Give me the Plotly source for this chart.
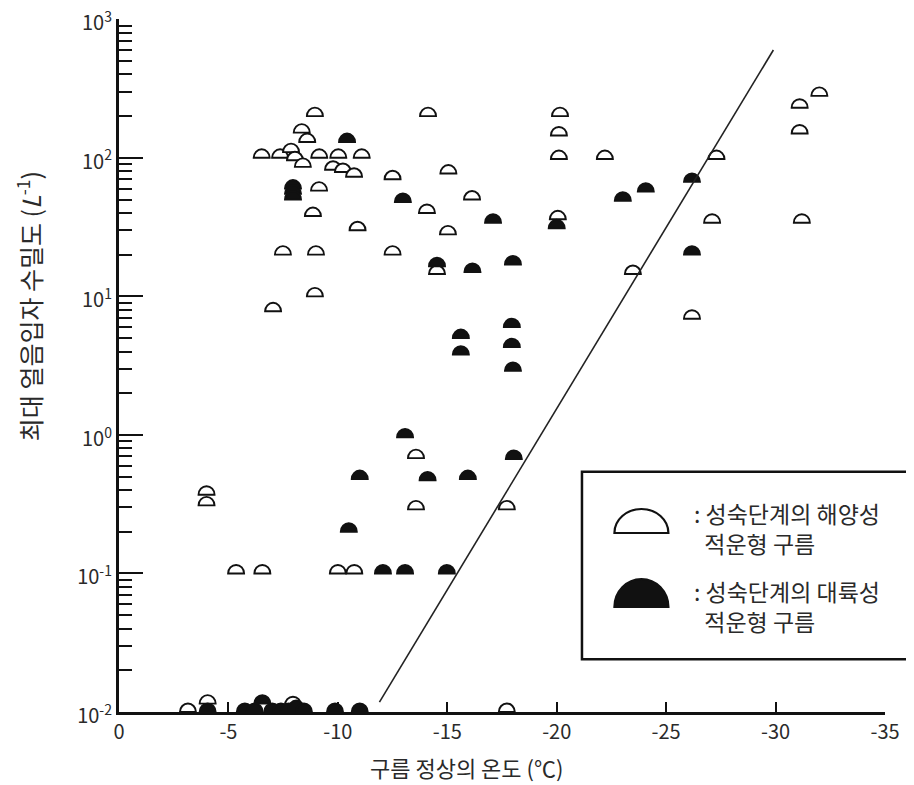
import plotly.graph_objects as go

# ---------------- data ----------------
# maritime (open dome) clouds: cloud-top temperature (deg C), max ice particle number density (L^-1)
mar_x = [-3.15, -4.05, -4.0, -4.0, -5.35, -6.55, -10.0, -10.75, -13.57, -13.57, -17.72, -17.72, -7.95,
         -7.04, -8.95, -7.49, -9.0, -12.5, -14.53, -23.48, -26.18,
         -8.86, -10.9, -14.07, -15.03, -20.05, -27.1, -31.2,
         -9.14, -12.5, -15.05, -16.13,
         -8.95, -8.35, -8.6, -14.12, -20.15, -20.1, -20.1, -22.2, -27.3, -32.0, -31.1, -31.1,
         -6.52, -7.36, -9.15, -10.02, -11.09, -7.86, -8.04, -8.4, -9.78, -10.23, -10.74]
mar_y = [0.01, 0.0115, 0.37, 0.31, 0.1, 0.1, 0.1, 0.1, 0.68, 0.29, 0.29, 0.01, 0.0112,
         7.8, 10, 20, 20, 20, 14.5, 14.5, 6.9,
         38, 30, 40, 28, 36, 34, 34,
         58, 70, 77, 50,
         200, 152, 130, 200, 200, 145, 98, 98, 98, 280, 230, 150,
         100, 100, 100, 100, 100, 110, 96, 86, 82, 79, 73]

# continental (filled dome) clouds
con_x = [-10.42, -7.95, -7.95, -7.95, -12.97, -17.09, -20.0, -23.02, -24.07, -26.18, -26.18,
         -14.53, -16.15, -18.0, -17.95, -17.95, -18.0, -15.62, -15.62,
         -13.07, -11.0, -14.1, -15.94, -18.04, -10.5, -12.06, -13.07, -14.98,
         -4.05, -5.75, -6.2, -6.55, -7.0, -7.4, -7.75, -8.1, -8.45, -9.87, -11.0]
con_y = [130, 60, 55, 50, 48, 34, 31, 49, 57, 67, 20,
         16.5, 15, 17, 6, 4.3, 2.9, 5, 3.8,
         0.96, 0.48, 0.47, 0.48, 0.67, 0.2, 0.1, 0.1, 0.1,
         0.01, 0.01, 0.01, 0.0115, 0.01, 0.01, 0.01, 0.0105, 0.01, 0.01, 0.01]

# boundary line
fit_x = [-11.9, -29.9]
fit_y = [0.0118, 600]

x_tick_vals = [0, -5, -10, -15, -20, -25, -30, -35]
x_tick_text = ["0", "-5", "-10", "-15", "-20", "-25", "-30", "-35"]
y_tick_vals = [0.01, 0.1, 1, 10, 100, 1000]
y_tick_text = ["10<sup>-2</sup>", "10<sup>-1</sup>", "10<sup>0</sup>",
               "10<sup>1</sup>", "10<sup>2</sup>", "10<sup>3</sup>"]

x_title = "구름 정상의 온도 (℃)"
y_title = "최대 얼음입자 수밀도 (<i>L</i><sup>-1</sup>)"
legend_mar = ": 성숙단계의 해양성<br>&nbsp;&nbsp;적운형 구름"
legend_con = ": 성숙단계의 대륙성<br>&nbsp;&nbsp;적운형 구름"

# ---------------- helpers ----------------
K = 0.5523
INK = "#111111"
TXT = "#2a2a2a"
FONT = "Noto Sans CJK KR"


def dome_path(r, h):
    return (f"M{-r},0 C{-r},{K*h:.2f} {-K*r:.2f},{h} 0,{h} "
            f"C{K*r:.2f},{h} {r},{K*h:.2f} {r},0 Z")


def dome(x, y, filled, r=8, h=8.5, ref="data", lw=1.9):
    d = dict(type="path", xsizemode="pixel", ysizemode="pixel",
             path=dome_path(r, h),
             fillcolor=INK if filled else "white",
             line=dict(color=INK, width=lw))
    if ref == "data":
        d.update(xref="x", yref="y", xanchor=x, yanchor=y, layer="below")
    else:
        d.update(xref="paper", yref="paper", xanchor=x, yanchor=y, layer="above")
    return d


fig = go.Figure()

# invisible carriers of the data (for hover)
fig.add_trace(go.Scatter(x=mar_x, y=mar_y, mode="markers", marker=dict(opacity=0, size=14),
                         name="해양성", showlegend=False))
fig.add_trace(go.Scatter(x=con_x, y=con_y, mode="markers", marker=dict(opacity=0, size=14),
                         name="대륙성", showlegend=False))
fig.add_trace(go.Scatter(x=fit_x, y=fit_y, mode="lines", line=dict(color="#222", width=1.6),
                         showlegend=False, hoverinfo="skip"))

shapes = []
for x, y in zip(mar_x, mar_y):
    shapes.append(dome(x, y, False))
for x, y in zip(con_x, con_y):
    shapes.append(dome(x, y, True))

# legend box and symbols
shapes.append(dict(type="rect", xref="paper", yref="paper", x0=0.6044, x1=1.034, y0=0.076, y1=0.3468,
                   line=dict(color=INK, width=2.5), fillcolor="white", layer="above"))
shapes.append(dome(0.682, 0.2583, False, r=27, h=24, ref="paper", lw=2.2))
shapes.append(dome(0.682, 0.1515, True, r=27, h=28, ref="paper", lw=2.2))

LEG = 23
annotations = [
    dict(text=x_title, xref="paper", yref="paper", x=0.454, y=-0.0794, showarrow=False,
         xanchor="center", yanchor="middle", font=dict(family=FONT, size=22, color=TXT)),
    dict(text=y_title, xref="paper", yref="paper", x=-0.118, y=0.585, showarrow=False,
         textangle=-90, xanchor="center", yanchor="middle", font=dict(family=FONT, size=25, color=TXT)),
    dict(text=legend_mar, xref="paper", yref="paper", x=0.748, y=0.266, showarrow=False,
         xanchor="left", yanchor="middle", align="left", font=dict(family=FONT, size=LEG, color=TXT)),
    dict(text=legend_con, xref="paper", yref="paper", x=0.748, y=0.153, showarrow=False,
         xanchor="left", yanchor="middle", align="left", font=dict(family=FONT, size=LEG, color=TXT)),
]

fig.update_layout(
    width=914, height=785,
    margin=dict(l=111, r=37, t=11, b=81, autoexpand=False),
    paper_bgcolor="white", plot_bgcolor="white",
    font=dict(family=FONT, color=TXT),
    showlegend=False,
    shapes=shapes,
    annotations=annotations,
    xaxis=dict(range=[0, -35], tickmode="array", tickvals=x_tick_vals, ticktext=x_tick_text,
               ticks="inside", ticklen=10, tickwidth=2, tickcolor=INK,
               showline=True, linewidth=2.5, linecolor=INK, showgrid=False, zeroline=False,
               automargin=False, ticklabeloverflow="allow",
               tickfont=dict(family=FONT, size=20, color=TXT)),
    yaxis=dict(type="log", range=[-2, 3.002], tickmode="array", tickvals=y_tick_vals, ticktext=y_tick_text,
               ticks="inside", ticklen=24, tickwidth=2, tickcolor=INK,
               minor=dict(ticks="inside", ticklen=13, tickwidth=2, tickcolor=INK, dtick="D1", showgrid=False),
               showline=True, linewidth=3, linecolor=INK, showgrid=False, zeroline=False,
               automargin=False, ticklabeloverflow="allow", ticklabelshift=4,
               tickfont=dict(family=FONT, size=20, color=TXT)),
)

fig.write_html("out.html")
